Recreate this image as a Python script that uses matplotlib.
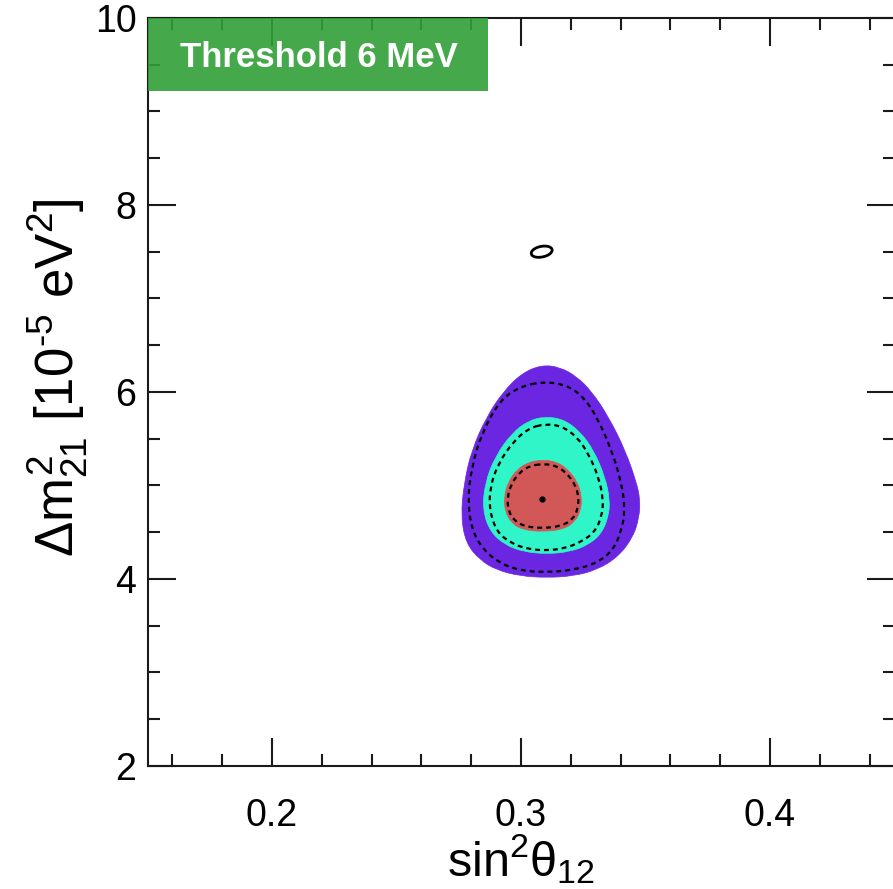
import numpy as np
import matplotlib
matplotlib.use("Agg")
import matplotlib.pyplot as plt
from matplotlib.path import Path
from matplotlib.patches import PathPatch, Rectangle
from matplotlib.ticker import MultipleLocator, FixedLocator

plt.rcParams['font.family'] = ['Liberation Sans', 'DejaVu Sans']
plt.rcParams['mathtext.fontset'] = 'custom'
plt.rcParams['mathtext.rm'] = 'Liberation Sans'
plt.rcParams['mathtext.it'] = 'Liberation Sans'
plt.rcParams['mathtext.bf'] = 'Liberation Sans:bold'

# allowed regions in (sin^2 theta12, dm21^2 [1e-5 eV^2])
purple_x = [0.3083, 0.3157, 0.3224, 0.3284, 0.3351, 0.3418, 0.3465, 0.3478,
            0.3475, 0.3451, 0.3391, 0.3304, 0.3210, 0.3103, 0.2996, 0.2902,
            0.2835, 0.2779, 0.2759, 0.2771, 0.2802, 0.2862, 0.2929, 0.3003]
purple_y = [6.289, 6.264, 6.164, 6.004, 5.736, 5.380, 5.023, 4.845,
            4.667, 4.453, 4.239, 4.096, 4.032, 4.014, 4.032, 4.096,
            4.203, 4.381, 4.667, 5.023, 5.380, 5.736, 6.004, 6.200]

cyan_x = [0.3096, 0.3170, 0.3237, 0.3291, 0.3337, 0.3357, 0.3351, 0.3324,
          0.3270, 0.3197, 0.3103, 0.3009, 0.2936, 0.2876, 0.2846, 0.2855,
          0.2896, 0.2963, 0.3030]
cyan_y = [5.736, 5.708, 5.576, 5.380, 5.095, 4.845, 4.667, 4.488,
          4.364, 4.292, 4.267, 4.292, 4.364, 4.506, 4.738, 5.023,
          5.308, 5.558, 5.693]

red_x = [0.3083, 0.3143, 0.3190, 0.3226, 0.3244, 0.3240, 0.3217, 0.3170,
         0.3090, 0.3009, 0.2963, 0.2936, 0.2932, 0.2949, 0.2985, 0.3030]
red_y = [5.273, 5.255, 5.166, 5.041, 4.881, 4.738, 4.613, 4.531,
         4.506, 4.524, 4.595, 4.720, 4.881, 5.041, 5.173, 5.248]

# dashed contours
dash3_x = [0.3090, 0.3183, 0.3250, 0.3304, 0.3364, 0.3404, 0.3418, 0.3404,
           0.3371, 0.3304, 0.3210, 0.3103, 0.2996, 0.2916, 0.2849, 0.2802,
           0.2786, 0.2802, 0.2842, 0.2916, 0.2996]
dash3_y = [6.111, 6.075, 5.950, 5.736, 5.380, 5.023, 4.738, 4.524,
           4.310, 4.168, 4.096, 4.071, 4.089, 4.168, 4.310, 4.524,
           4.845, 5.201, 5.558, 5.914, 6.057]

dash2_x = [0.3096, 0.3163, 0.3224, 0.3270, 0.3311, 0.3331, 0.3324, 0.3297,
           0.3244, 0.3177, 0.3103, 0.3023, 0.2956, 0.2902, 0.2873, 0.2876,
           0.2909, 0.2969, 0.3030]
dash2_y = [5.658, 5.636, 5.522, 5.344, 5.095, 4.845, 4.667, 4.506,
           4.399, 4.328, 4.303, 4.321, 4.389, 4.506, 4.738, 4.988,
           5.237, 5.469, 5.611]

dash1_x = [0.3083, 0.3141, 0.3183, 0.3217, 0.3232, 0.3228, 0.3208, 0.3163,
           0.3090, 0.3016, 0.2972, 0.2949, 0.2945, 0.2961, 0.2993, 0.3034]
dash1_y = [5.230, 5.216, 5.130, 5.016, 4.873, 4.745, 4.638, 4.567,
           4.542, 4.560, 4.624, 4.731, 4.873, 5.016, 5.137, 5.209]

# small isolated island
island_x = [0.3126, 0.3118, 0.3101, 0.3078, 0.3057, 0.3043,
            0.3040, 0.3048, 0.3065, 0.3088, 0.3109, 0.3123]
island_y = [7.525, 7.550, 7.562, 7.558, 7.538, 7.508,
            7.476, 7.450, 7.438, 7.443, 7.462, 7.492]

best_fit = (0.3083, 4.85)

xticks = [0.2, 0.3, 0.4]
xticklabels = ["0.2", "0.3", "0.4"]
yticks = [2, 4, 6, 8, 10]
yticklabels = ["2", "4", "6", "8", "10"]


def smooth_path(xs, ys):
    # closed quadratic-bezier path using the points as control points
    pts = np.column_stack([xs, ys])
    n = len(pts)
    mids = (pts + np.roll(pts, -1, axis=0)) / 2
    verts = [mids[-1]]
    codes = [Path.MOVETO]
    for i in range(n):
        verts += [pts[i], mids[i]]
        codes += [Path.CURVE3, Path.CURVE3]
    verts.append(mids[-1])
    codes.append(Path.CLOSEPOLY)
    return Path(verts, codes)


fig = plt.figure(figsize=(8.93, 8.89), dpi=100)
ax = fig.add_axes([0.1652, 0.1384, 0.8365, 0.8414])

for xs, ys, col in [(purple_x, purple_y, '#6A26E0'),
                    (cyan_x, cyan_y, '#30F5C9'),
                    (red_x, red_y, '#D25757')]:
    ax.add_patch(PathPatch(smooth_path(xs, ys), facecolor=col,
                           edgecolor=col, lw=0.5, zorder=1))

for xs, ys in [(dash3_x, dash3_y), (dash2_x, dash2_y), (dash1_x, dash1_y)]:
    ax.add_patch(PathPatch(smooth_path(xs, ys), fill=False, edgecolor='black',
                           lw=1.6, linestyle=(0, (2.2, 1.8)), zorder=2))

ax.add_patch(PathPatch(smooth_path(island_x, island_y), fill=False,
                       edgecolor='black', lw=2.0, zorder=2))

ax.plot(best_fit[0], best_fit[1], 'o', color='black', ms=3.5, zorder=3)

ax.set_xlim(0.15, 0.45)
ax.set_ylim(2, 10)

ax.xaxis.set_major_locator(FixedLocator(xticks))
ax.set_xticklabels(xticklabels)
ax.xaxis.set_minor_locator(MultipleLocator(0.02))
ax.yaxis.set_major_locator(FixedLocator(yticks))
ax.set_yticklabels(yticklabels)
ax.yaxis.set_minor_locator(MultipleLocator(0.5))

ax.tick_params(which='both', direction='in', top=True, right=True,
               width=1.5, color='#1a1a1a', labelsize=27)
ax.tick_params(which='major', length=20)
ax.tick_params(which='minor', length=8.5)
ax.tick_params(axis='x', pad=23)
ax.tick_params(axis='y', pad=8)
for sp in ax.spines.values():
    sp.set_linewidth(1.5)
    sp.set_color('#1a1a1a')

ax.set_xlabel(r'sin$^2\theta_{12}$', fontsize=35)
ax.xaxis.set_label_coords(0.5, -0.089)
ax.set_ylabel(r'$\Delta m^2_{21}$ [10$^{\text{-}5}$ eV$^2$]', fontsize=38,
              labelpad=3)
ax.yaxis.label.set_y(0.519)

# label banner in the top-left corner
ax.add_patch(Rectangle((0, 0.9024), 0.456, 0.0976, transform=ax.transAxes,
                       facecolor='#31A037', edgecolor='none', alpha=0.9,
                       zorder=4, clip_on=False))
ax.text(0.2297, 0.947, 'Threshold 6 MeV', transform=ax.transAxes,
        color='white', fontsize=25, fontweight='bold', ha='center',
        va='center', zorder=5)

fig.savefig('out.png', dpi=100)
